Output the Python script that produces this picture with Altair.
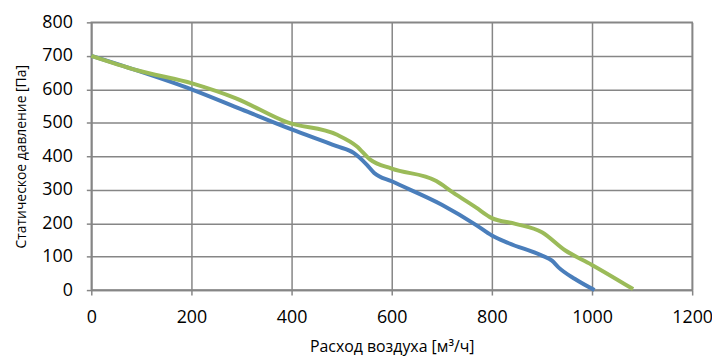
import altair as alt
import pandas as pd

blue_x = [0, 100, 200, 300, 400, 490, 524, 550, 565, 600, 700, 768, 800, 834, 900, 920, 933, 966, 1005]
blue_y = [700, 652, 600, 540, 480, 430, 410, 375, 350, 325, 255, 195, 163, 140, 103, 88, 68, 33, 0]
green_x = [0, 91, 203, 289, 392, 491, 530, 557, 600, 689, 722, 768, 800, 847, 900, 946, 999, 1082]
green_y = [700, 657, 617, 573, 501, 464, 430, 390, 363, 326, 292, 247, 215, 198, 173, 119, 76, 3]

df = pd.concat([
    pd.DataFrame({"x": blue_x, "y": blue_y, "s": "A"}),
    pd.DataFrame({"x": green_x, "y": green_y, "s": "B"}),
])

chart = alt.Chart(df).mark_line(strokeWidth=4, interpolate="monotone").encode(
    x=alt.X("x:Q", scale=alt.Scale(domain=[0, 1200], nice=False),
            axis=alt.Axis(values=[0, 200, 400, 600, 800, 1000, 1200], format="d", labelFlush=False,
                          title="Расход воздуха [м³/ч]", titleFontSize=16, titlePadding=12,
                          labelPadding=14)),
    y=alt.Y("y:Q", scale=alt.Scale(domain=[0, 800], nice=False),
            axis=alt.Axis(values=[0, 100, 200, 300, 400, 500, 600, 700, 800], format="d",
                          title="Статическое давление [Па]", titleFontSize=14, titlePadding=13,
                          labelPadding=14)),
    color=alt.Color("s:N", scale=alt.Scale(domain=["A", "B"], range=["#4A7EBB", "#9BBB59"]), legend=None),
).properties(
    width=606, height=270,
    autosize=alt.AutoSizeParams(type="none"),
    padding={"left": 84, "top": 13, "right": 20, "bottom": 66},
).configure_view(
    stroke="#868686", strokeWidth=1.5
).configure_axis(
    labelFont="Open Sans", labelFontSize=18, labelColor="#000000",
    titleFont="Open Sans", titleFontWeight="normal", titleColor="#000000",
    gridColor="#868686", gridWidth=1.5, gridOpacity=1,
    domainColor="#868686", domainWidth=1.5,
    tickColor="#868686", tickSize=5, tickWidth=1.5,
)

chart.save("out.html", embed_options={"renderer": "svg", "actions": False})
